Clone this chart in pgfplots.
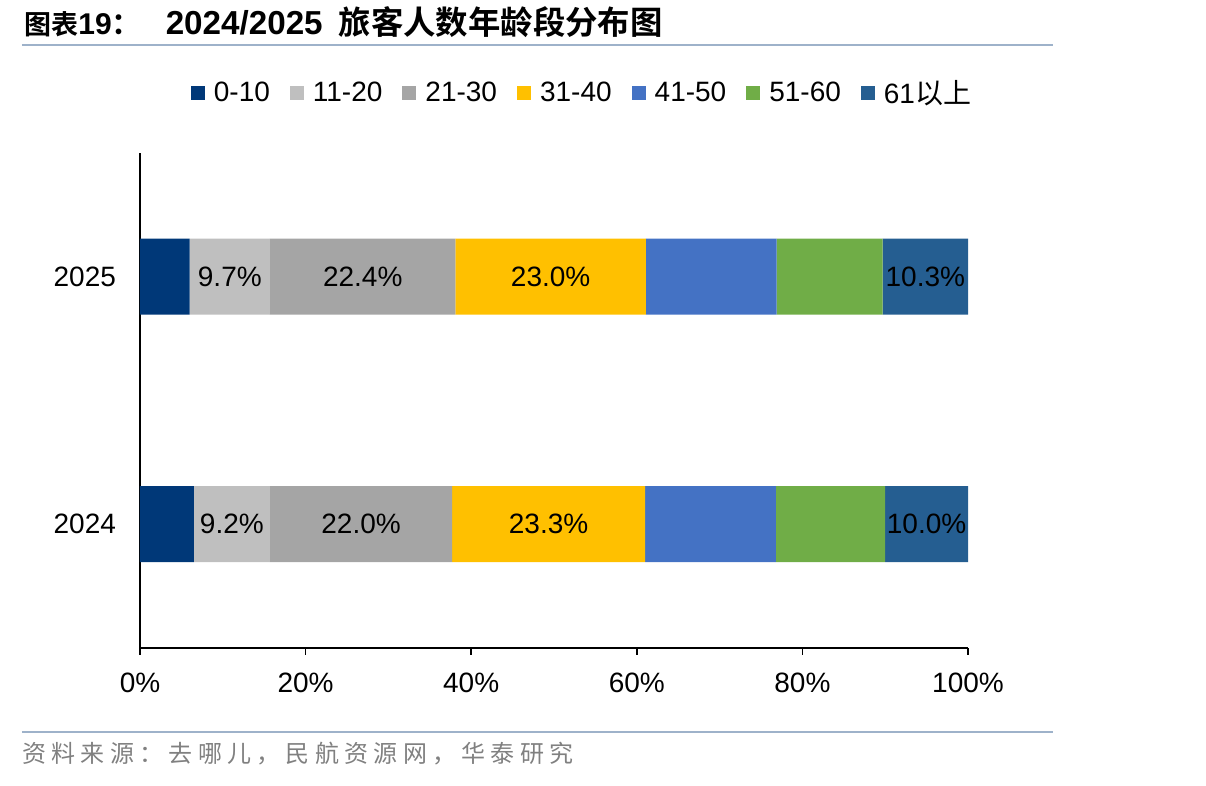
\documentclass[border=0pt]{standalone}
\usepackage{pgfplots}
\usepackage{pgfplotstable}
\pgfplotsset{compat=1.18}
\usepackage{fontspec}
\setmainfont{Liberation Sans}
\newfontfamily\cjk{Noto Sans CJK SC}
\newfontfamily\cjkb{Noto Sans CJK SC Bold}
\newfontfamily\cjkfoot[LetterSpace=22]{Noto Sans CJK SC}
\definecolor{cA}{HTML}{003878}
\definecolor{cB}{HTML}{BFBFBF}
\definecolor{cC}{HTML}{A5A5A5}
\definecolor{cD}{HTML}{FFC000}
\definecolor{cE}{HTML}{4472C4}
\definecolor{cF}{HTML}{70AD47}
\definecolor{cG}{HTML}{255E91}
\definecolor{rule}{RGB}{158,178,202}
\pgfplotstableread{
y a b c d e f g
0 6.5 9.2 22.0 23.3 15.8 13.2 10.0
1 6.0 9.7 22.4 23.0 15.8 12.8 10.3
}\data
\begin{document}
\begin{tikzpicture}
\path[use as bounding box] (-70pt,-69pt) rectangle (533pt,324pt);
\node[anchor=west,inner sep=0pt] at (-58pt,313pt) {{\fontsize{13.5}{16}\selectfont\cjkb 图表}{\fontsize{15}{16}\selectfont\bfseries 19}{\fontsize{15}{16}\selectfont\cjkb ：}\hspace{12pt}{\fontsize{16.6}{16}\selectfont\bfseries 2024/2025}\hspace{8pt}{\fontsize{16.2}{16}\selectfont\cjkb 旅客人数年龄段分布图}};
\draw[rule,line width=1pt] (-59pt,301.5pt) -- (456.5pt,301.5pt);
\draw[rule,line width=1pt] (-59pt,-42pt) -- (456.5pt,-42pt);
\node[anchor=west,inner sep=0pt,text=black!50] at (-59pt,-53pt) {\fontsize{12}{14}\selectfont\cjkfoot 资料来源：去哪儿，民航资源网，华泰研究};
\begin{axis}[
  at={(0,0)}, anchor=south west,
  scale only axis, width=414pt, height=247.5pt,
  xbar stacked, bar width=38pt,
  xmin=0, xmax=100, ymin=-0.5, ymax=1.5,
  axis x line*=bottom, axis y line*=left,
  axis line style={line width=0.8pt,-},
  tick style={line width=0.8pt,black},
  tick align=outside, major tick length=3.5pt,
  xtick={0,20,40,60,80,100},
  xticklabel={\pgfmathprintnumber{\tick}\%},
  xticklabel style={yshift=-5.5pt},
  ytick={0,1}, yticklabels={2024,2025},
  ytick style={draw=none},
  yticklabel style={xshift=-5pt},
  extra y ticks={-0.5,0.5,1.5}, extra y tick labels={},
  extra y tick style={tick style={line width=0.8pt,black}, major tick length=3.5pt},
  /pgf/number format/assume math mode=true,
  font=\fontsize{14}{16}\selectfont,
  legend columns=7,
  legend style={draw=none, fill=none, at={(0.535,1.121)}, anchor=center,
    font=\fontsize{14}{16}\selectfont, column sep=0pt,
    /tikz/every even column/.append style={column sep=8pt}},
  legend cell align=left,
  legend image code/.code={\fill[#1,draw=none] (0pt,-3.5pt) rectangle (7pt,3.5pt); \path (9.5pt,0pt);},
  every node near coord/.append style={anchor=center, text=black, font=\fontsize{14}{16}\selectfont},
]
\addplot[fill=cA, draw=none] table[x=a,y=y] {\data};
\addplot[fill=cB, draw=none, point meta=\thisrow{b},
  nodes near coords={\pgfmathprintnumber[fixed,fixed zerofill,precision=1]{\pgfplotspointmeta}\%}] table[x=b,y=y] {\data};
\addplot[fill=cC, draw=none, point meta=\thisrow{c},
  nodes near coords={\pgfmathprintnumber[fixed,fixed zerofill,precision=1]{\pgfplotspointmeta}\%}] table[x=c,y=y] {\data};
\addplot[fill=cD, draw=none, point meta=\thisrow{d},
  nodes near coords={\pgfmathprintnumber[fixed,fixed zerofill,precision=1]{\pgfplotspointmeta}\%}] table[x=d,y=y] {\data};
\addplot[fill=cE, draw=none] table[x=e,y=y] {\data};
\addplot[fill=cF, draw=none] table[x=f,y=y] {\data};
\addplot[fill=cG, draw=none, point meta=\thisrow{g},
  nodes near coords={\pgfmathprintnumber[fixed,fixed zerofill,precision=1]{\pgfplotspointmeta}\%}] table[x=g,y=y] {\data};
\legend{0-10,11-20,21-30,31-40,41-50,51-60,{61{\cjk 以上}}}
\end{axis}
\end{tikzpicture}
\end{document}
